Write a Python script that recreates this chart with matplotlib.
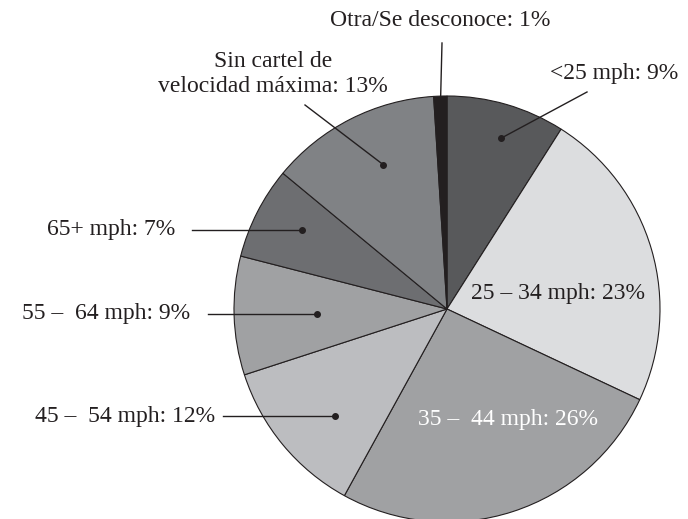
import numpy as np
import matplotlib
matplotlib.use("Agg")
import matplotlib.pyplot as plt

labels = ["<25 mph: 9%", "25 – 34 mph: 23%", "35 –  44 mph: 26%", "45 –  54 mph: 12%",
          "55 –  64 mph: 9%", "65+ mph: 7%", "Sin cartel de\nvelocidad máxima: 13%",
          "Otra/Se desconoce: 1%"]
values = [9, 23, 26, 12, 9, 7, 13, 1]
colors = ["#58595b", "#dcdddf", "#a0a1a3", "#bcbdc0", "#a0a1a3", "#6d6e71", "#808285", "#231f20"]

W, H = 688, 519
fig = plt.figure(figsize=(W / 100, H / 100), dpi=100)
ax = fig.add_axes([0, 0, 1, 1])

cx, cy, R = 447, H - 309, 213
wedges, _ = ax.pie(values, colors=colors, startangle=90, counterclock=False,
                   center=(cx, cy), radius=R, frame=True,
                   wedgeprops=dict(edgecolor="#231f20", linewidth=0.8))
ax.set_xlim(0, W)
ax.set_ylim(0, H)
ax.set_aspect("equal")
ax.axis("off")

font = dict(family=["Liberation Serif", "DejaVu Serif"], fontsize=17, color="#231f20")

def mid(i):
    w = wedges[i]
    return np.deg2rad((w.theta1 + w.theta2) / 2)

def dot(i, frac, dang=0.0):
    a = mid(i) + np.deg2rad(dang)
    return cx + frac * R * np.cos(a), cy + frac * R * np.sin(a)

def Y(y):
    return H - y

# <25 mph
px, py = dot(0, 0.84, -1.3)
ax.plot([587, px], [Y(92), py], color="#231f20", lw=1)
ax.plot(px, py, "o", color="#231f20", ms=4)
ax.text(678, Y(73), labels[0], ha="right", va="center", **font)

# inside labels
ax.text(558, Y(293), labels[1], ha="center", va="center", **font)
f2 = dict(font); f2["color"] = "white"
ax.text(508, Y(420), labels[2], ha="center", va="center", **f2)

# 45-54
px, py = dot(3, 0.73, 4.1)
ax.plot([223, px], [py, py], color="#231f20", lw=1)
ax.plot(px, py, "o", color="#231f20", ms=4)
ax.text(215, py, labels[3], ha="right", va="center", **font)

# 55-64
px, py = dot(4, 0.61, 0.4)
ax.plot([208, px], [py, py], color="#231f20", lw=1)
ax.plot(px, py, "o", color="#231f20", ms=4)
ax.text(190, py, labels[4], ha="right", va="center", **font)

# 65+
px, py = dot(5, 0.775, -1.6)
ax.plot([192, px], [py, py], color="#231f20", lw=1)
ax.plot(px, py, "o", color="#231f20", ms=4)
ax.text(175, py, labels[5], ha="right", va="center", **font)

# Sin cartel
px, py = dot(6, 0.74, -3.2)
ax.plot([305, px], [Y(105), py], color="#231f20", lw=1)
ax.plot(px, py, "o", color="#231f20", ms=4)
ax.text(273, Y(74), labels[6], ha="center", va="center", linespacing=1.2, **font)

# Otra
a = mid(7)
ax.plot([442, cx + 0.97 * R * np.cos(a)], [Y(43), cy + 0.97 * R * np.sin(a)], color="#231f20", lw=1)
ax.text(440, Y(20), labels[7], ha="center", va="center", **font)

fig.savefig("out.png", dpi=100)
